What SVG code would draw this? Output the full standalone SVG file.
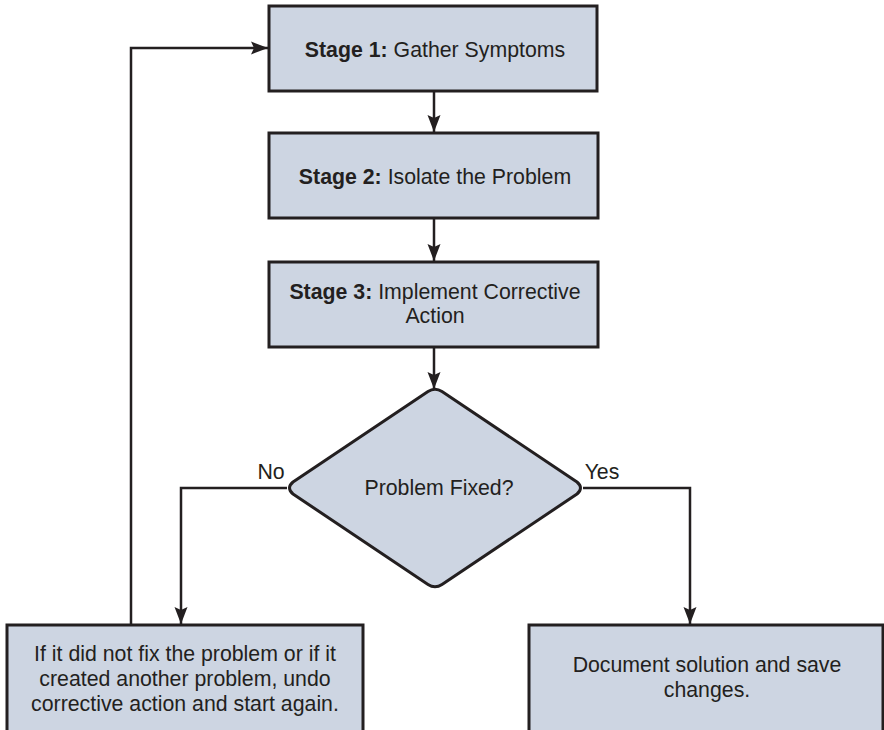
<svg xmlns="http://www.w3.org/2000/svg" width="884" height="730" viewBox="0 0 884 730">
  <style>
    .box { fill: #cdd5e2; stroke: #231f20; stroke-width: 3; }
    .link { fill: none; stroke: #231f20; stroke-width: 2.5; }
    .t { font-family: "Liberation Sans", Arial, Helvetica, sans-serif; font-size: 21.3px; fill: #231f20; text-anchor: middle; }
    .b { font-weight: bold; }
  </style>
  <defs>
    <marker id="arrow" markerUnits="userSpaceOnUse" markerWidth="20" markerHeight="16" viewBox="-17 -8 20 16" refX="0" refY="0" orient="auto">
      <path d="M-17,-6.5 L0,0 L-17,6.5 L-14,0 Z" fill="#231f20"/>
    </marker>
  </defs>

  <g id="connectors">
    <line class="link" x1="434" y1="92" x2="434" y2="132" marker-end="url(#arrow)"/>
    <line class="link" x1="434" y1="219" x2="434" y2="261" marker-end="url(#arrow)"/>
    <line class="link" x1="434" y1="348" x2="434" y2="389" marker-end="url(#arrow)"/>
    <polyline class="link" points="287,488 181,488 181,624" marker-end="url(#arrow)"/>
    <polyline class="link" points="583,488 690,488 690,624" marker-end="url(#arrow)"/>
    <polyline class="link" points="131,625 131,48 268,48" marker-end="url(#arrow)"/>
    <text class="t" x="271" y="479">No</text>
    <text class="t" x="602" y="479">Yes</text>
  </g>

  <g id="stage1">
    <rect class="box" x="269" y="6" width="328" height="85"/>
    <text class="t" x="435" y="57"><tspan class="b">Stage 1:</tspan> Gather Symptoms</text>
  </g>

  <g id="stage2">
    <rect class="box" x="269" y="133" width="329" height="85"/>
    <text class="t" x="435" y="184"><tspan class="b">Stage 2:</tspan> Isolate the Problem</text>
  </g>

  <g id="stage3">
    <rect class="box" x="269" y="262" width="329" height="85"/>
    <text class="t" x="435" y="299"><tspan class="b">Stage 3:</tspan> Implement Corrective</text>
    <text class="t" x="435" y="323">Action</text>
  </g>

  <g id="decision">
    <path class="box" stroke-linejoin="round" d="M428,391.5 Q435,387 442,391.5 L577,482 Q584,488 577,494 L442,584.5 Q435,589 428,584.5 L293,494 Q286,488 293,482 Z"/>
    <text class="t" x="439" y="495">Problem Fixed?</text>
  </g>

  <g id="retry">
    <rect class="box" x="7" y="625" width="356" height="120"/>
    <text class="t" x="185" y="661">If it did not fix the problem or if it</text>
    <text class="t" x="185" y="686">created another problem, undo</text>
    <text class="t" x="185" y="711">corrective action and start again.</text>
  </g>

  <g id="document">
    <rect class="box" x="529" y="625" width="354" height="120"/>
    <text class="t" x="707" y="672">Document solution and save</text>
    <text class="t" x="707" y="697">changes.</text>
  </g>
</svg>
